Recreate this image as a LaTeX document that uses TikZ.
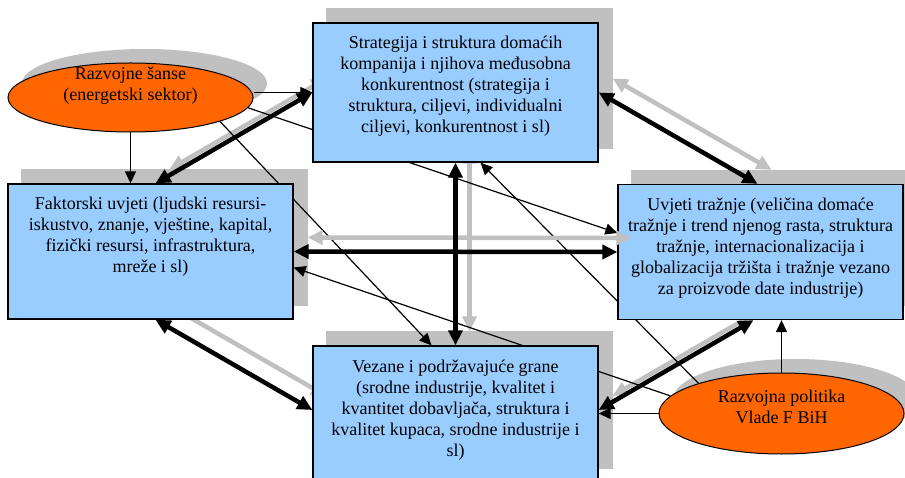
\documentclass[tikz,border=0pt]{standalone}
\usepackage{fontspec}
\setmainfont{Liberation Serif}
\usetikzlibrary{arrows.meta,shapes.geometric}
\definecolor{boxblue}{RGB}{153,204,255}
\definecolor{ellorange}{RGB}{255,102,0}
\definecolor{shadowgray}{RGB}{192,192,192}
\pgfdeclarelayer{shadows}
\pgfdeclarelayer{links}
\pgfsetlayers{shadows,links,main}
\newcommand{\boxtext}[2]{\parbox[c][#1][t]{285pt}{\centering\rule{0pt}{26pt}#2}}

\begin{document}
\begin{tikzpicture}[x=1pt,y=-1pt,>={Triangle[length=12pt,width=11pt]},
    boxnode/.style={rectangle,draw,line width=1.3pt,fill=boxblue,inner sep=0pt,font=\fontsize{18}{21}\selectfont},
    ellnode/.style={ellipse,draw,line width=1pt,fill=ellorange,inner sep=0pt,minimum width=245pt},
    elltext/.style={align=center,inner sep=0pt,font=\fontsize{18}{21}\selectfont},
    thinlink/.style={->,line width=1.2pt},
    biglink/.style={{Triangle[length=15pt,width=14pt]}-{Triangle[length=15pt,width=14pt]},line width=4.5pt}]
    \useasboundingbox (0,0) rectangle (905,478);
    \node [boxnode] (strat) at (455.5,92.5) {\boxtext{139pt}{Strategija i struktura domaćih\\kompanija i njihova međusobna\\konkurentnost (strategija i\\struktura, ciljevi, individualni\\ciljevi, konkurentnost i sl)}};
    \node [boxnode] (faktor) at (150.5,251.5) {\boxtext{135pt}{Faktorski uvjeti (ljudski resursi-\\iskustvo, znanje, vještine, kapital,\\fizički resursi, infrastruktura,\\mreže i sl)}};
    \node [boxnode] (trazn) at (760.5,252) {\boxtext{135pt}{Uvjeti tražnje (veličina domaće\\tražnje i trend njenog rasta, struktura\\tražnje, internacionalizacija i\\globalizacija tržišta i tražnje vezano\\za proizvode date industrije)}};
    \node [boxnode] (vezane) at (455.5,414) {\boxtext{136pt}{Vezane i podržavajuće grane\\(srodne industrije, kvalitet i\\kvantitet dobavljača, struktura i\\kvalitet kupaca, srodne industrije i\\sl)}};
    \node [ellnode,minimum height=69pt] (sanse) at (130.5,97.5) {};
    \node [elltext] (sanseTxt) at ([yshift=12pt]sanse.center) {Razvojne šanse\\(energetski sektor)};
    \node [ellnode,minimum height=81pt] (razvoj) at (781.5,413.5) {};
    \node [elltext] (razvojTxt) at ([yshift=6.5pt]razvoj.center) {Razvojna politika\\Vlade F BiH};

    \coordinate (fTop) at ([xshift=5pt]faktor.north);
    \coordinate (fBot) at ([xshift=5pt]faktor.south);
    \coordinate (vLeft) at ([yshift=4pt]vezane.west);
    \coordinate (vRight) at ([yshift=4pt]vezane.east);
    \coordinate (tTop) at ([xshift=-3pt]trazn.north);
    \coordinate (tBot) at ([xshift=-7pt]trazn.south);

    \begin{pgfonlayer}{shadows}
        \foreach \n in {strat,faktor,trazn,vezane}
            \fill [shadowgray] ([shift={(14pt,14pt)}]\n.south west) rectangle ([shift={(14pt,14pt)}]\n.north east);
        \fill [shadowgray] ([shift={(14pt,14pt)}]sanse.center) ellipse [x radius=122.5pt,y radius=34.5pt];
        \fill [shadowgray] ([shift={(14pt,14pt)}]razvoj.center) ellipse [x radius=122.5pt,y radius=40.5pt];
        \foreach \a/\b in {fTop/strat.west,strat.east/tTop,strat.south/vezane.north,fBot/vLeft,vRight/tBot}
            \draw [biglink,shadowgray] ([shift={(14pt,14pt)}]\a) -- ([shift={(14pt,14pt)}]\b);
    \end{pgfonlayer}

    \begin{pgfonlayer}{links}
        \draw [thinlink] (sanse.east |- strat.west) -- (strat.west);
        \draw [thinlink] (sanse.south) -- (sanse.south |- faktor.north);
        \draw [thinlink] (sanse.-5) -- ([yshift=19pt]trazn.west);
        \draw [thinlink] (sanse.-15) -- ([xshift=-24pt]vezane.north);
        \draw [thinlink] (razvoj.171) -- ([yshift=-16pt]faktor.east);
        \draw [thinlink] (razvoj.160) -- ([xshift=25pt]strat.south);
        \draw [thinlink] (razvoj.west) -- (razvoj.west -| vezane.east);
        \draw [thinlink] (razvoj.north) -- (razvoj.north |- trazn.south);
    \end{pgfonlayer}

    \draw [biglink,shadowgray] ([shift={(14pt,14pt)}]faktor.east) -- ([shift={(14pt,14pt)}]trazn.west);
    \foreach \a/\b in {fTop/strat.west,strat.east/tTop,faktor.east/trazn.west,strat.south/vezane.north,fBot/vLeft,vRight/tBot}
        \draw [biglink] (\a) -- (\b);
\end{tikzpicture}
\end{document}
